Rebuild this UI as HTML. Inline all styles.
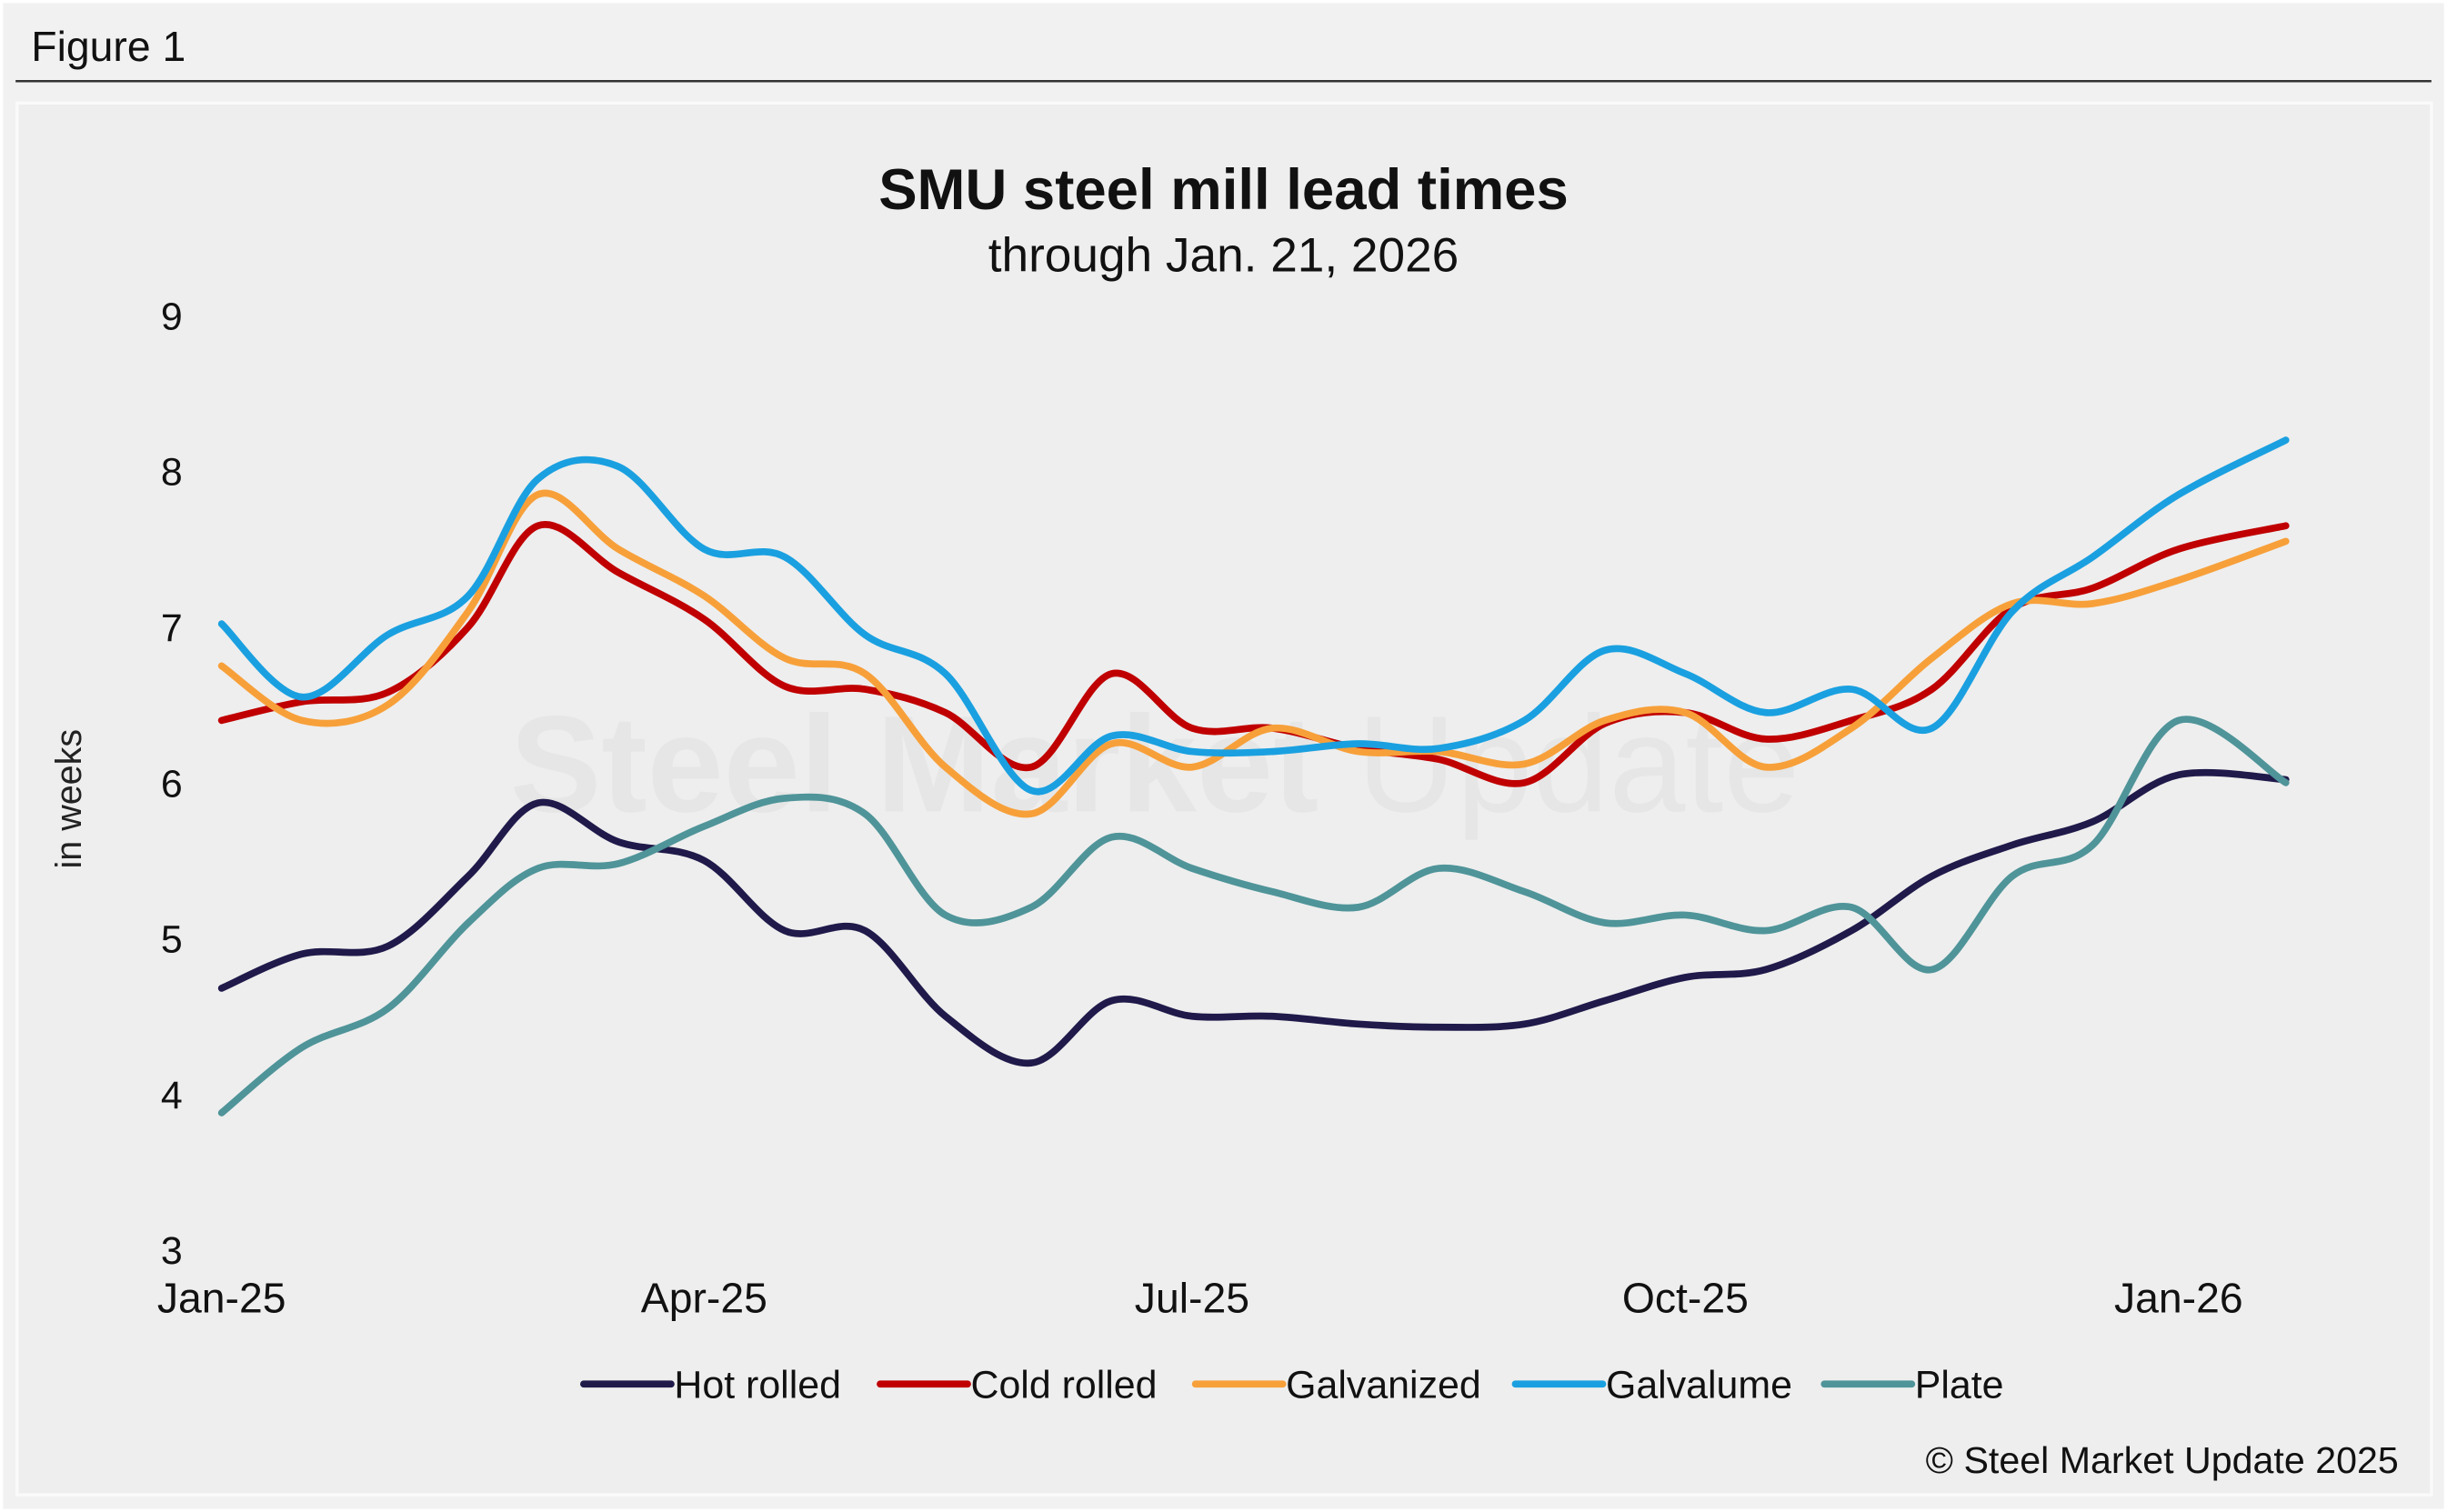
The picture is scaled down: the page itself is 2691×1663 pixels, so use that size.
<!DOCTYPE html>
<html><head><meta charset="utf-8"><style>
html,body{margin:0;padding:0;background:#fff;}
svg{display:block;font-family:"Liberation Sans",Arial,sans-serif;}
</style></head><body>
<svg id="chart" width="2691" height="1663" viewBox="0 0 1568 969" preserveAspectRatio="none" xmlns="http://www.w3.org/2000/svg">
<rect x="0" y="0" width="1568" height="969" fill="#ffffff"/>
<rect x="2" y="2" width="1564" height="965" fill="#f1f1f1"/>
<text x="20" y="39" font-size="27" fill="#111">Figure 1</text>
<line x1="10" y1="52" x2="1558" y2="52" stroke="#333" stroke-width="1.5"/>
<rect x="11" y="66" width="1547" height="892" fill="#eeeeee" stroke="#fafafa" stroke-width="2"/>
<text x="740" y="520" font-size="88" font-weight="bold" fill="#e6e6e6" text-anchor="middle">Steel Market <tspan font-weight="normal">Update</tspan></text>
<text x="784" y="134" font-size="37" font-weight="bold" text-anchor="middle" fill="#111">SMU steel mill lead times</text>
<text x="784" y="174" font-size="31" text-anchor="middle" fill="#111">through Jan. 21, 2026</text>
<text transform="translate(52,512) rotate(-90)" font-size="23" text-anchor="middle" fill="#222">in weeks</text>
<g id="yticks"></g><g id="xticks"></g><g id="series"></g><g id="legend"></g>
<text x="1537" y="944" font-size="24" text-anchor="end" fill="#111">© Steel Market Update 2025</text>
</svg>
<script>
const days = [0,15,31,46,59,74,90,105,120,135,151,166,181,196,212,227,243,258,273,288,304,319,334,349,365,385];
const hotRolled = [4.68,4.9,4.95,5.4,5.87,5.62,5.5,5.05,5.05,4.5,4.2,4.6,4.5,4.5,4.45,4.43,4.45,4.6,4.75,4.8,5.05,5.4,5.6,5.75,6.05,6.02];
const coldRolled = [6.4,6.52,6.58,7.0,7.65,7.35,7.05,6.62,6.6,6.45,6.1,6.7,6.35,6.35,6.22,6.15,6.0,6.38,6.45,6.28,6.4,6.6,7.12,7.25,7.5,7.65];
const galvanized = [6.75,6.4,6.5,7.1,7.85,7.5,7.2,6.8,6.7,6.1,5.8,6.25,6.1,6.35,6.2,6.2,6.12,6.4,6.45,6.1,6.35,6.8,7.15,7.15,7.3,7.55];
const galvalume = [7.02,6.55,6.95,7.2,7.95,8.03,7.5,7.45,6.95,6.7,5.95,6.3,6.2,6.2,6.25,6.22,6.4,6.85,6.7,6.45,6.6,6.35,7.1,7.45,7.85,8.2];
const plate = [3.88,4.3,4.55,5.1,5.45,5.48,5.72,5.9,5.8,5.15,5.2,5.65,5.45,5.3,5.2,5.45,5.3,5.1,5.15,5.05,5.2,4.8,5.4,5.6,6.4,6.0];
const yTicks = [3,4,5,6,7,8,9];
const xTickLabels = ["Jan-25","Apr-25","Jul-25","Oct-25","Jan-26"];
const xTickDays = [0,90,181,273,365];
const seriesNames = ["Hot rolled","Cold rolled","Galvanized","Galvalume","Plate"];
const seriesColors = ["#1f1a4a","#c00000","#f7a03a","#1aa0e0","#4f9499"];
const allSeries = [hotRolled,coldRolled,galvanized,galvalume,plate];

const NS="http://www.w3.org/2000/svg";
function X(d){return 142+d*(1254/365);}
function Y(v){return 801-(v-3)*99.8;}
function mk(tag,attrs,parent){const e=document.createElementNS(NS,tag);for(const k in attrs)e.setAttribute(k,attrs[k]);parent.appendChild(e);return e;}
const yg=document.getElementById('yticks');
yTicks.forEach(v=>{const t=mk('text',{x:110,y:Y(v)+9,'font-size':25,'text-anchor':'middle',fill:'#111'},yg);


t.textContent=v;});
const xg=document.getElementById('xticks');
xTickLabels.forEach((l,i)=>{const t=mk('text',{x:X(xTickDays[i]),y:841,'font-size':27,'text-anchor':'middle',fill:'#111'},xg);


t.textContent=l;});
function smooth(pts){let d=`M${pts[0][0]},${pts[0][1]}`;
for(let i=0;i<pts.length-1;i++){const p0=pts[Math.max(0,i-1)],p1=pts[i],p2=pts[i+1],p3=pts[Math.min(pts.length-1,i+2)];
const c1=[p1[0]+(p2[0]-p0[0])/6,p1[1]+(p2[1]-p0[1])/6],c2=[p2[0]-(p3[0]-p1[0])/6,p2[1]-(p3[1]-p1[1])/6];
d+=` C${c1[0]},${c1[1]} ${c2[0]},${c2[1]} ${p2[0]},${p2[1]}`;}return d;}
const sg=document.getElementById('series');
allSeries.forEach((s,i)=>{const pts=s.map((v,j)=>[X(days[j]),Y(v)]);
const p=mk('path',{d:smooth(pts),fill:'none',stroke:seriesColors[i],'stroke-width':4.5,'stroke-linecap':'round','stroke-linejoin':'round'},sg);

});
const lg=document.getElementById('legend');
const lx=[374,564,766,971,1169];
seriesNames.forEach((n,i)=>{const g=mk('g',{},lg);


mk('line',{x1:lx[i],y1:887,x2:lx[i]+56,y2:887,stroke:seriesColors[i],'stroke-width':4.5,'stroke-linecap':'round'},g);
const t=mk('text',{x:lx[i]+58,y:896,'font-size':25,fill:'#111'},g);t.textContent=n;});
</script>
</body></html>
